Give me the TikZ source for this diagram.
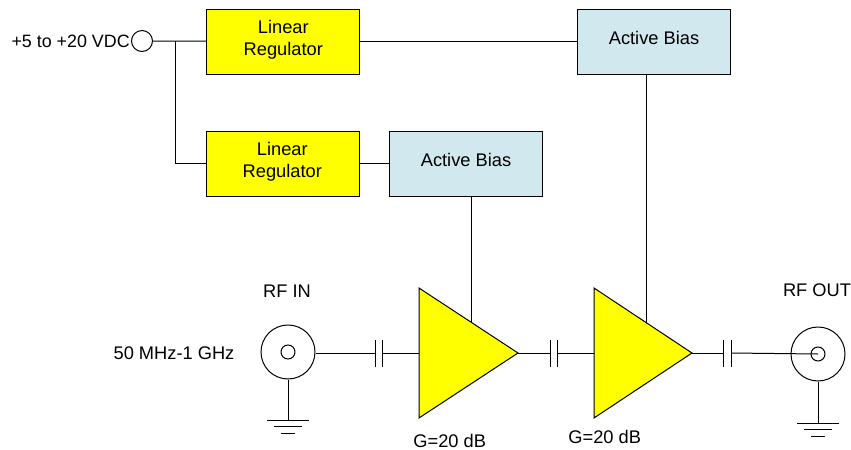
\documentclass[tikz,border=0pt]{standalone}
\usepackage{fontspec}
\setmainfont{Liberation Sans}
\usetikzlibrary{calc}
\definecolor{lightblue}{RGB}{208,232,238}
\definecolor{ampyellow}{RGB}{255,255,0}
\tikzset{
  wire/.style={draw=black,line width=0.75pt},
  blockbox/.style={draw=black,line width=0.75pt,inner sep=0pt,minimum width=114.75pt,minimum height=48.75pt},
  regbox/.style={blockbox,fill=ampyellow},
  biasbox/.style={blockbox,fill=lightblue},
  amp/.style={draw=black,line width=0.75pt,fill=ampyellow,line join=miter},
  port/.style={circle,draw=black,line width=0.75pt,inner sep=0pt,fill=white},
  label/.style={inner sep=0pt,align=center,font=\fontsize{13.7}{16.5}\selectfont},
}
\begin{document}
\begin{tikzpicture}[x=0.75pt,y=-0.75pt]
\useasboundingbox (0,0) rectangle (851,450);
% blocks
\node[regbox] (reg1) at (283.4,41.5) {};
\node[label] (reg1t) at (283.3,40) {Linear\\Regulator};
\node[regbox] (reg2) at (282.5,163.7) {};
\node[label] (reg2t) at (282.3,162) {Linear\\Regulator};
\node[biasbox] (bias1) at (654,41.5) {};
\node[label] (bias1t) at (654,37.5) {Active Bias};
\node[biasbox] (bias2) at (466.2,163.7) {};
\node[label] (bias2t) at (466,160) {Active Bias};
% named points
\node[port,minimum size=15.75pt] (dc) at (142,41) {};
\node[label,anchor=east,font=\fontsize{13.4}{16.5}\selectfont] (dct) at (130,41) {+5 to +20 VDC};
\coordinate (jct) at (175,41);
\coordinate (a1in) at (419,353);
\coordinate (a1out) at (518,353);
\coordinate (a1top) at (471,322);
\coordinate (a2in) at (594,353);
\coordinate (a2out) at (692,353);
\coordinate (a2top) at (646,322);
% wires from supplies
\draw[wire] (dc) -- (reg1);
\draw[wire] (jct) |- (reg2);
\draw[wire] (reg1) -- (reg1 -| bias1.west);
\draw[wire] (reg2.east) -- (reg2 -| bias2.west);
\draw[wire] (bias2.south -| a1top) -- (a1top);
\draw[wire] (bias1.south -| a2top) -- (a2top);
% RF connectors
\node[port,minimum size=40.5pt] (in) at (288,352) {};
\node[port,minimum size=10.5pt] (inc) at (288,352) {};
\node[port,minimum size=40.5pt] (out) at (818,354) {};
\node[port,minimum size=10.5pt] (outc) at (818,354) {};
% capacitors
\coordinate (c1a) at (375,353); \coordinate (c1b) at (382,353);
\coordinate (c2a) at (550,353); \coordinate (c2b) at (557,353);
\coordinate (c3a) at (723,353); \coordinate (c3b) at (731,353);
\foreach \c in {c1a,c1b,c2a,c2b,c3a,c3b}{
  \draw[wire] ($(\c)+(0,-13.5)$) -- ($(\c)+(0,13.5)$);
}
\draw[wire] (in.east |- c1a) -- (c1a);
\draw[wire] (c1b) -- (a1in);
\draw[wire] (a1out) -- (c2a);
\draw[wire] (c2b) -- (a2in);
\draw[wire] (a2out) -- (c3a);
\draw[wire] (c3b) -- (outc.center);
% amps
\draw[amp] (419,288) -- (518,353) -- (419,418) -- cycle;
\draw[amp] (594,288) -- (692,353) -- (594,418) -- cycle;
% grounds
\coordinate (g1) at (288,420);
\coordinate (g2) at (818,423);
\draw[wire] (in.south) -- (g1);
\draw[wire] (out.south) -- (g2);
\foreach \g in {g1,g2}{
  \draw[wire] ($(\g)+(-21,0)$) -- ($(\g)+(21,0)$);
  \draw[wire] ($(\g)+(-14,6.7)$) -- ($(\g)+(14,6.7)$);
  \draw[wire] ($(\g)+(-7,13.3)$) -- ($(\g)+(7,13.3)$);
}
% labels
\node[label] (rfin) at (287,291) {RF IN};
\node[label] (rfout) at (817,290) {RF OUT};
\node[label] (freq) at (174,353) {50 MHz-1 GHz};
\node[label] (g1t) at (449.7,440.5) {G=20 dB};
\node[label] (g2t) at (604.7,437) {G=20 dB};
\end{tikzpicture}
\end{document}
